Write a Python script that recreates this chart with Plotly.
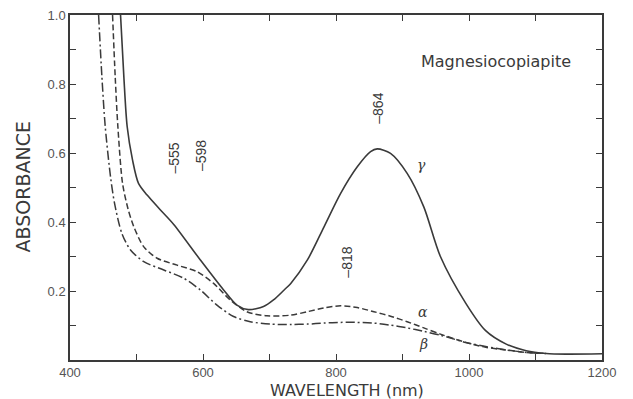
import plotly.graph_objects as go

# gamma (solid)
gamma_x = [476, 481, 486, 494, 503, 516, 536, 556, 596, 631, 651, 668, 691, 706, 722, 732, 757, 782, 807, 832, 852, 862, 882, 907, 932, 957, 995, 1025, 1056, 1086, 1116, 1146, 1200]
gamma_y = [1.0, 0.82, 0.676, 0.58, 0.512, 0.478, 0.435, 0.393, 0.29, 0.203, 0.159, 0.146, 0.155, 0.174, 0.203, 0.222, 0.29, 0.386, 0.483, 0.56, 0.604, 0.612, 0.599, 0.541, 0.444, 0.30, 0.165, 0.085, 0.046, 0.027, 0.019, 0.017, 0.018]

# alpha (dashed)
alpha_x = [464, 468, 472, 479, 487, 496, 511, 531, 561, 591, 616, 641, 666, 696, 732, 757, 782, 807, 832, 857, 882, 907, 932, 957, 995, 1025, 1056, 1086, 1116]
alpha_y = [1.0, 0.82, 0.676, 0.512, 0.44, 0.386, 0.328, 0.295, 0.275, 0.256, 0.222, 0.174, 0.14, 0.128, 0.13, 0.14, 0.151, 0.157, 0.152, 0.14, 0.127, 0.111, 0.093, 0.075, 0.051, 0.037, 0.029, 0.022, 0.019]

# beta (dash-dot)
beta_x = [443, 448, 453, 461, 467, 478, 491, 511, 541, 571, 596, 621, 646, 671, 702, 732, 757, 782, 807, 832, 857, 882, 907, 932, 957, 995, 1025, 1056, 1086, 1116]
beta_y = [1.0, 0.82, 0.676, 0.53, 0.454, 0.367, 0.319, 0.285, 0.261, 0.237, 0.203, 0.159, 0.126, 0.111, 0.104, 0.103, 0.104, 0.107, 0.109, 0.109, 0.107, 0.101, 0.093, 0.083, 0.072, 0.051, 0.039, 0.029, 0.022, 0.019]

x_ticks = [400, 500, 600, 700, 800, 900, 1000, 1100, 1200]
x_ticktext = ["400", "", "600", "", "800", "", "1000", "", "1200"]
y_ticks = [0, 0.1, 0.2, 0.3, 0.4, 0.5, 0.6, 0.7, 0.8, 0.9, 1.0]
y_ticktext = ["", "", "0.2", "", "0.4", "", "0.6", "", "0.8", "", "1.0"]

peak_labels = ["\u2013555", "\u2013598", "\u2013818", "\u2013864"]
peak_x = [556, 598, 816, 862]
peak_y = [0.586, 0.593, 0.284, 0.729]

series_labels = ["\u03b3", "\u03b1", "\u03b2"]
series_lx = [928, 931, 931]
series_ly = [0.564, 0.138, 0.046]

INK = "#3a3a3a"
FONT = "Liberation Sans"
WIDE = "DejaVu Sans"

fig = go.Figure()
fig.add_trace(go.Scatter(x=gamma_x, y=gamma_y, mode="lines", line=dict(color=INK, width=1.6, shape="spline", smoothing=0.8), showlegend=False))
fig.add_trace(go.Scatter(x=alpha_x, y=alpha_y, mode="lines", line=dict(color=INK, width=1.5, dash="6px,3px", shape="spline", smoothing=0.8), showlegend=False))
fig.add_trace(go.Scatter(x=beta_x, y=beta_y, mode="lines", line=dict(color=INK, width=1.5, dash="9px,3px,2px,3px", shape="spline", smoothing=0.8), showlegend=False))

for t, x, y in zip(peak_labels, peak_x, peak_y):
    fig.add_annotation(x=x, y=y, text=t, showarrow=False, textangle=-90,
                       font=dict(family=FONT, size=14, color=INK))
for t, x, y in zip(series_labels, series_lx, series_ly):
    fig.add_annotation(x=x, y=y, text="<i>" + t + "</i>", showarrow=False,
                       font=dict(family="DejaVu Serif", size=14, color=INK))
fig.add_annotation(x=1040, y=0.864, text="Magnesiocopiapite", showarrow=False,
                   font=dict(family=WIDE, size=16, color=INK))

# axis titles as paper-anchored annotations
fig.add_annotation(xref="paper", yref="paper", x=0.52, y=0, yanchor="middle",
                   yshift=-30, text="WAVELENGTH (nm)", showarrow=False,
                   font=dict(family=WIDE, size=16, color=INK))
fig.add_annotation(xref="paper", yref="paper", x=0, y=0.5, xanchor="center",
                   xshift=-48, textangle=-90, text="ABSORBANCE", showarrow=False,
                   font=dict(family=WIDE, size=19, color=INK))

# page body adds an 8px margin, so the figure is 8px smaller than the window
fig.update_layout(
    width=625, height=391,
    margin=dict(l=62, r=31, t=7, b=39, autoexpand=False),
    paper_bgcolor="white", plot_bgcolor="white",
    font=dict(family=FONT, color=INK),
    xaxis=dict(range=[400, 1200], tickvals=x_ticks, ticktext=x_ticktext,
               ticks="inside", ticklen=6, tickcolor=INK, tickwidth=1.2,
               showline=True, linecolor=INK, linewidth=1.5, mirror="ticks",
               showgrid=False, zeroline=False, automargin=False,
               ticklabeloverflow="allow",
               tickfont=dict(size=13, color="#555")),
    yaxis=dict(range=[0, 1.0], tickvals=y_ticks, ticktext=y_ticktext,
               ticks="inside", ticklen=6, tickcolor=INK, tickwidth=1.2,
               showline=True, linecolor=INK, linewidth=1.5, mirror="ticks",
               showgrid=False, zeroline=False, automargin=False,
               ticklabeloverflow="allow",
               tickfont=dict(size=13, color="#555")),
)

fig.write_html("out.html")
